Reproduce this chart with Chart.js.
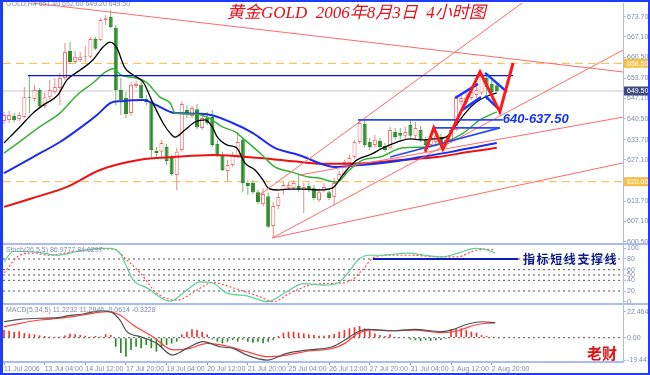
<!DOCTYPE html>
<html>
<head>
<meta charset="utf-8">
<title>GOLD H4</title>
<script src="https://cdn.jsdelivr.net/npm/chart.js@4.4.1/dist/chart.umd.min.js"></script>
<style>
  html, body { margin: 0; padding: 0; background: #fff; }
  #wrap { position: relative; width: 650px; height: 375px; overflow: hidden; background: #fff; }
  #wrap canvas { position: absolute; left: 0; }
  .sep { position: absolute; left: 0; width: 650px; height: 2px; background: #a9bdf4; }
  #frame { position: absolute; left: 0; top: 0; width: 650px; height: 375px; box-sizing: border-box;
           border: 2px solid #1c3cff; border-left-width: 3px; pointer-events: none; }
</style>
</head>
<body>
<div id="wrap">
  <canvas id="main" width="650" height="243" style="top:0"></canvas>
  <div class="sep" style="top:243px"></div>
  <canvas id="stoch" width="650" height="58" style="top:245px"></canvas>
  <div class="sep" style="top:303px"></div>
  <canvas id="macd" width="650" height="68" style="top:305px"></canvas>
  <div id="frame"></div>
</div>
<script>
// 4h gold bars, 11 Jul - 3 Aug 2006
const open = [639.7,640.1,641.4,640.4,641.0,647.5,646.9,649.8,644.6,647.5,
  649.2,650.5,653.7,662.5,658.9,659.6,660.6,660.6,666.4,666.1,
  672.6,673.6,670.0,649.8,647.2,642.3,651.1,651.5,646.9,645.9,
  630.0,629.7,631.3,627.7,622.2,630.3,643.3,641.4,643.6,637.5,
  640.7,641.0,632.3,628.7,623.5,625.4,628.4,633.6,619.6,619.6,
  616.6,612.7,615.3,605.6,612.1,617.3,617.9,617.9,618.6,617.3,
  618.6,617.9,614.0,617.3,616.6,615.0,620.5,622.2,626.1,628.0,
  632.9,638.8,632.9,631.9,633.2,631.6,631.0,636.2,635.8,634.9,
  638.4,634.9,636.8,633.6,631.9,632.9,634.5,632.3,633.6,636.8,
  645.9,645.9,647.2,648.2,648.9,653.7,651.8,651.4];
const high = [642.7,643.0,642.3,642.7,650.8,654.7,651.5,650.5,648.9,653.1,
  653.7,655.4,665.1,665.4,662.5,662.2,664.1,667.1,667.1,673.2,
  674.2,675.8,671.0,653.7,649.2,652.4,652.8,653.1,648.2,646.6,
  631.3,633.6,632.3,628.7,631.0,646.2,644.9,644.6,645.3,642.0,
  642.7,643.3,633.6,629.7,627.1,629.7,636.2,634.2,620.5,620.5,
  617.3,617.9,616.6,613.4,616.3,619.9,619.9,620.5,622.2,619.6,
  619.6,618.9,617.9,619.6,617.9,621.2,623.5,627.1,628.7,633.6,
  640.1,640.1,634.2,635.2,634.2,632.6,637.8,637.5,637.5,637.8,
  640.1,639.4,638.1,634.5,635.2,635.8,635.5,634.5,637.8,648.2,
  648.2,648.9,650.5,651.5,655.7,654.7,653.1,652.6];
const low = [638.8,639.1,639.4,639.7,640.7,642.3,646.2,644.0,644.0,646.9,
  648.5,644.9,653.1,658.3,658.6,658.9,658.9,660.2,662.8,665.8,
  671.0,670.0,644.9,641.7,640.7,641.4,650.5,646.6,644.9,627.7,
  627.4,627.7,625.4,621.9,617.3,629.7,640.7,640.7,637.1,636.8,
  638.4,631.3,628.0,623.5,620.2,624.8,627.7,616.6,615.7,616.0,
  612.7,612.1,604.9,602.0,611.1,615.7,617.3,617.3,616.6,609.8,
  616.6,614.0,613.4,616.6,614.0,612.4,619.9,621.9,625.4,627.4,
  632.3,631.0,630.3,631.0,630.6,629.7,630.3,633.6,633.6,633.9,
  634.2,633.9,632.9,631.0,631.0,631.9,631.0,631.3,632.6,636.5,
  644.9,644.9,646.6,647.2,648.2,646.6,647.5,649.2];
const close = [641.7,641.7,640.1,641.7,647.5,647.2,649.8,644.6,647.5,649.8,
  650.8,653.7,662.2,658.9,660.6,660.6,660.9,666.4,663.2,672.6,
  673.2,670.3,649.8,646.6,642.0,651.5,651.8,647.2,645.9,630.3,
  629.3,632.6,626.7,622.5,629.7,645.3,642.3,644.0,637.8,640.7,
  639.1,631.9,628.7,623.8,625.4,628.7,632.9,619.6,618.6,616.6,
  613.4,616.0,605.3,612.1,615.0,618.9,618.9,619.6,617.6,618.3,
  617.3,614.7,616.6,618.3,614.7,619.6,622.5,626.4,627.7,632.9,
  639.1,631.9,631.3,633.6,631.3,630.3,636.8,634.5,634.9,636.2,
  634.9,637.5,633.6,631.9,634.2,634.9,631.9,633.6,636.8,647.2,
  647.2,647.5,649.2,649.8,655.0,650.8,649.2,649.5];

const timeLabels = ['11 Jul 2006','13 Jul 04:00','14 Jul 12:00','17 Jul 20:00','19 Jul 04:00','20 Jul 12:00',
  '21 Jul 20:00','25 Jul 04:00','26 Jul 12:00','27 Jul 20:00','31 Jul 04:00','1 Aug 12:00','2 Aug 20:00'];
const priceTicks = [600.5,607.1,613.7,620.5,627.1,633.7,640.5,647.1,653.7,660.5,667.1,673.7];
const stochTicks = [0,20,40,50,60,80,100];
const stochLevels = [20,40,50,60,80];
const macdTicks = [-19.4418,0,22.4645];

// moving averages, sampled along the drawn curves (bar index -> price)
const maFastAt = [0,3.1,5.7,7.7,10.6,12.4,15,17.5,19.5,20.9,22.2,23.8,25.4,27.4,29.3,31.3,32.7,33.7,35.6,37.6,
  39.6,41,42,44,45.8,47.4,49.4,51,52,53.7,56,59,61.8,64.6,66.7,68,69.5,72,74.6,77.4,80,82,84.5,87,89,91,93,95.7,97];
const maFast = [632.6,637.8,642.3,644.9,648.2,653.1,656.3,659.6,663.8,665.4,663.5,657.0,654.7,652.4,645.6,639.1,635.8,634.5,636.8,639.4,
  640.1,637.8,634.5,631.9,631.0,626.1,623.8,620.5,617.9,617.3,617.6,617.6,617.3,617.9,622.2,624.8,627.1,628.7,631.0,632.9,
  633.9,633.6,633.9,634.5,638.4,642.7,645.9,648.2,648.9];
const maMidAt = [0,3,7,11,14.4,17.5,20,21.5,23,26,28,30.7,32.7,33.7,37,40,43,45.5,47.4,50.8,53.3,56.7,60,62,64,65.5,68,70.7,74,78.5,83,86.5,90.4,93.7,97];
const maMid = [629.3,632.9,637.8,642.3,648.2,652.1,655.7,656.7,654.7,653.7,652.4,647.5,645.6,642.3,642.0,641.0,637.8,636.2,633.6,628.7,
  624.8,623.1,621.5,621.2,620.2,619.9,623.8,627.1,628.0,631.0,631.3,632.6,635.8,640.1,642.7];
const maSlowAt = [0,5.7,11,15,18.3,21,23,27.4,30,32.7,33.7,39.6,45,49,53.3,58,63.2,65,70,76,82,88,93,97];
const maSlow = [622.8,628.0,632.9,637.5,641.7,645.6,646.2,646.6,644.9,642.7,642.3,642.0,639.1,635.8,631.0,628.7,625.4,624.8,625.4,626.4,
  628.0,629.7,631.3,632.6];
const maLongAt = [0,5.7,12.4,18.9,26.8,33.3,41.1,50.4,58.3,63.2,72,78.5,85.2,91.7,97];
const maLong = [611.8,614.7,618.3,623.8,627.1,628.0,628.7,627.7,626.4,625.8,626.1,627.1,628.0,629.7,631.0];

// stochastic 26,5,5
const stochKAt = [0,1.8,4.5,7.7,10.4,14.4,18.9,20.9,22.8,25.4,28.1,32.7,36,38.6,41.1,43.9,47.8,51.8,55.7,58.9,63.2,65.7,67.7,69.7,71.7,74.4,79.5,82.9,86.2,89.4,92.7,94.7,96.7];
const stochK = [75,94,94,91,87,94,100,100,91,41,26,1,22,37,35,16,11,0,19,34,31,35,54,78,87,87,91,87,84,91,100,98,91];
const stochDAt = [0,3.1,5.7,9.1,12.4,16.3,21.5,24.2,26.8,30.1,34.1,38,41.1,45.1,50.4,53,56.3,60.2,63.2,66.5,68.5,70.5,73,76.4,80.3,85.4,89.4,92.1,94.7,96.7];
const stochD = [54,87,91,87,92,97,99,78,54,16,3,22,36,26,9,0,16,31,34,35,41,59,84,87,87,84,84,94,98,97];

// MACD 5,34,5
const macdHist = [6.6,6.0,5.0,5.5,4.0,3.5,2.9,2.0,1.5,1.0,0.9,0.9,1.8,3.5,3.0,2.3,1.7,0.9,1.5,1.0,3.0,2.4,
  -7.8,-13.3,-16.4,-10.6,-7.8,-9.2,-6.3,-9.0,-12.0,-8.0,-6.3,-4.9,-3.4,
  2.9,5.2,7.2,6.6,5.2,2.9,
  -1.5,-3.4,-4.9,-3.4,-2.0,-3.4,-1.7,-3.4,-4.3,-3.4,-4.9,-3.4,-2.0,
  1.5,4.3,5.2,5.2,4.3,3.7,2.9,2.3,1.7,1.7,
  2.3,3.2,5.2,6.6,8.1,9.0,10.1,8.1,6.0,3.7,2.3,1.4,2.9,0.9,0.5,
  -0.5,-1.7,-2.3,-2.9,-2.0,-2.6,-2.3,-2.0,-1.2,
  7.5,8.1,8.1,6.6,5.2,4.3,2.3,1.4,0.9,-0.3];
const macdMainAt = [0,3.1,7.1,11,12.4,15.6,18.9,20.9,22.8,24.2,26.8,30.1,33.1,36,39.2,42.5,45.1,47.8,51.8,55.7,60,64.6,67.1,69.7,71.7,76.4,80.9,86.2,88.2,90.7,94.1,96.7];
const macdMain = [13.8,15.9,16.8,17.6,18.8,20.5,23.1,22.5,15.3,5.2,0.9,-4.9,-15,-9.2,-3.4,-7.8,-9.2,-15,-19.3,-13.5,-10.5,-7.8,-2,5.2,7.2,6,7.2,5.2,6.7,11,13.8,13];
const macdSigAt = [0,3.1,7.1,11,15.6,20.3,22.8,25.4,29.3,33.3,36.6,40,43.9,47.8,51.8,55.7,60,64.6,67.1,69.7,72.4,76.4,80.9,86.2,89.4,92.7,96.7];
const macdSig = [9.5,12.4,15.3,16.8,19.6,22.5,19.6,11,0.9,-10.6,-9.2,-4.9,-7.2,-12.1,-16.4,-15,-11.5,-9.2,-4.9,3.8,6.7,6,6.6,4.3,6,11,13];

// hand drawn lines [x0, y0, x1, y1] in bar index / price
const redTrends = [[5.7,678.1,121.85,655.7],[50.0,615.3,102.8,679.1],[52.8,601.7,121.85,662.8],
  [58.3,622.2,121.85,641.0],[52.8,601.7,121.85,626.1]];
const zigzagAt = [82.9,84.6,86.4,93.7,97.6,100.2];
const zigzag = [629.7,637.5,630.6,655.7,642.7,658.6];
const blueFlags = [[88.8,647.2,93.3,651.8],[90.2,643.3,93.9,647.5],[94.7,655.4,99.0,649.2],[94.7,647.9,97.6,643.3]];
const topLine = [4.7,654.5,100.2,654.5];
const blueLevels = [[69.7,640.1,98.2,640.1],[84.5,637.5,97.6,637.5],[76.0,628.0,97.6,637.5]];
const lastPrice = 649.5;
const orangeLevels = [658.5,620.0];
const stochSupport = [72.6,80,101.2,80];

const xMin = -0.2, xMax = 121.85;
const FONT = '"Liberation Sans", Arial, sans-serif';
const AXIS = '#a9bdf4';
const LABEL = '#7d8db0';

const pts = (xs, ys) => xs.map((x, i) => ({ x, y: ys[i] }));
function seg(s, color, width, order, dash) {
  return { type: 'line', data: [{ x: s[0], y: s[1] }, { x: s[2], y: s[3] }], borderColor: color,
    borderWidth: width, borderDash: dash || [], pointRadius: 0, order };
}
function curve(xs, ys, color, width, order, dash) {
  return { type: 'line', data: pts(xs, ys), borderColor: color, borderWidth: width, borderDash: dash || [],
    pointRadius: 0, cubicInterpolationMode: 'monotone', order };
}
const full = v => [xMin, v, xMax, v];

function xAxis(show) {
  return {
    type: 'linear', min: xMin, max: xMax, display: show, offset: false,
    afterBuildTicks: s => { s.ticks = timeLabels.map((_, k) => ({ value: k * 8 })); },
    afterFit: s => { if (show) s.height = 11; s.paddingLeft = 0; s.paddingRight = 0; },
    grid: { display: true, offset: false, drawOnChartArea: false, tickLength: 3, color: '#8898b8' },
    border: { display: true, color: AXIS, width: 2 },
    ticks: { align: 'start', autoSkip: false, maxRotation: 0, padding: 0, color: LABEL,
      font: { size: 7, family: FONT }, callback: (v, i) => timeLabels[i] }
  };
}
function yAxis(min, max, ticks, fmt) {
  return {
    position: 'right', min, max, stacked: false,
    afterBuildTicks: s => { s.ticks = ticks.map(v => ({ value: v })); },
    afterFit: s => { s.width = 27; s.paddingTop = 0; s.paddingBottom = 0; },
    grid: { display: true, drawOnChartArea: false, tickLength: 3, color: AXIS },
    border: { display: true, color: AXIS, width: 1 },
    ticks: { autoSkip: false, padding: 1, color: LABEL, font: { size: 7, family: FONT }, callback: fmt }
  };
}
const common = { responsive: false, animation: false, events: [], devicePixelRatio: 1,
  plugins: { legend: { display: false }, tooltip: { enabled: false } } };

// ---------- main price panel ----------
const up = open.map((o, i) => close[i] >= o);
const bars = open.map((_, i) => i);

function priceTag(ctx, ys, v, bg) {
  const py = ys.getPixelForValue(v);
  ctx.fillStyle = bg;
  ctx.fillRect(624, py - 4.5, 26, 9);
  ctx.fillStyle = '#ffffff';
  ctx.font = '7px ' + FONT;
  ctx.textAlign = 'left';
  ctx.textBaseline = 'middle';
  ctx.fillText(v.toFixed(2), 627, py + 0.5);
}

const mainText = {
  id: 'mainText',
  afterDraw(chart) {
    const { ctx, scales } = chart;
    ctx.save();
    ctx.textAlign = 'left';
    ctx.textBaseline = 'top';
    ctx.font = '7px ' + FONT;
    ctx.fillStyle = LABEL;
    ctx.fillText('GOLD,H4 651.40 652.60 649.20 649.50', 6, 1);
    ctx.textBaseline = 'middle';
    ctx.font = 'italic 17px "Liberation Serif", "Noto Sans CJK SC", serif';
    ctx.fillStyle = '#e8101a';
    ctx.fillText('黄金GOLD  2006年8月3日  4小时图', 227, 14);
    ctx.font = 'italic bold 13px ' + FONT;
    ctx.fillStyle = '#1434e6';
    ctx.fillText('640-637.50', scales.x.getPixelForValue(98.2), scales.y.getPixelForValue(640.2));
    orangeLevels.forEach(v => priceTag(ctx, scales.y, v, '#f6c046'));
    priceTag(ctx, scales.y, lastPrice, '#3a4a7c');
    ctx.restore();
  }
};

new Chart(document.getElementById('main'), {
  type: 'bar',
  data: {
    datasets: [
      { data: bars.map(i => ({ x: i, y: [low[i], high[i]] })), backgroundColor: up.map(u => u ? '#f08c8c' : '#7db57d'),
        borderWidth: 0, grouped: false, barPercentage: 0.2, categoryPercentage: 1, order: 30 },
      { data: bars.map(i => ({ x: i, y: [open[i], close[i]] })), backgroundColor: up.map(u => u ? '#ffffff' : '#2b8a2b'),
        borderColor: up.map(u => u ? '#f07070' : '#2b8a2b'), borderWidth: 1, borderSkipped: false,
        grouped: false, barPercentage: 0.8, categoryPercentage: 1, order: 29 },
      seg(full(lastPrice), '#c8c8c8', 1, 40),
      ...orangeLevels.map(v => seg(full(v), '#f8b840', 1, 40, [8, 5])),
      curve(maLongAt, maLong, '#ee1111', 2, 14),
      curve(maSlowAt, maSlow, '#1a2cf2', 2, 13),
      curve(maMidAt, maMid, '#35b235', 1.5, 12),
      curve(maFastAt, maFast, '#000000', 1.3, 11),
      ...redTrends.map(s => seg(s, '#ff6a6a', 1, 8)),
      seg(topLine, '#0a14c8', 1.2, 7),
      ...blueLevels.map(s => seg(s, '#2a48f6', 1.6, 7)),
      ...blueFlags.map(s => seg(s, '#1438ff', 2.5, 6)),
      curve(zigzagAt, zigzag, '#ff1a1a', 3, 5)
    ].map(d => d.type === 'line' ? Object.assign(d, { cubicInterpolationMode: d.data.length > 2 && d.borderWidth < 3 ? 'monotone' : 'default' }) : d)
  },
  options: Object.assign({}, common, {
    layout: { padding: { left: 3, top: 3, right: 0, bottom: 1 } },
    scales: { x: xAxis(false), y: yAxis(600.38, 678.12, priceTicks, v => v.toFixed(2)) }
  }),
  plugins: [mainText]
});

// ---------- stochastic panel ----------
const stochText = {
  id: 'stochText',
  afterDraw(chart) {
    const ctx = chart.ctx;
    ctx.save();
    ctx.textAlign = 'left';
    ctx.textBaseline = 'top';
    ctx.font = '7px ' + FONT;
    ctx.fillStyle = LABEL;
    ctx.fillText('Stoch(26,5,5) 86.9777 84.6297', 6, 2);
    ctx.textBaseline = 'middle';
    ctx.font = 'bold 12px "Noto Sans CJK SC", sans-serif';
    ctx.fillStyle = '#0c1a8c';
    ctx.letterSpacing = '1.6px';
    ctx.fillText('指标短线支撑线', 523, 14);
    ctx.restore();
  }
};

new Chart(document.getElementById('stoch'), {
  type: 'line',
  data: {
    datasets: [
      ...stochLevels.map(v => seg(full(v), '#555555', 1, 20, [2, 3])),
      curve(stochDAt, stochD, '#ff4e4e', 1.2, 6, [2, 2]),
      curve(stochKAt, stochK, '#5ccf9a', 1.2, 5),
      seg(stochSupport, '#0a1cc0', 2, 2)
    ]
  },
  options: Object.assign({}, common, {
    layout: { padding: { left: 3, top: 0, right: 0, bottom: 0 } },
    scales: { x: xAxis(false), y: yAxis(-2.4, 106.2, stochTicks, v => String(v)) }
  }),
  plugins: [stochText]
});

// ---------- MACD panel ----------
const macdText = {
  id: 'macdText',
  afterDraw(chart) {
    const ctx = chart.ctx;
    ctx.save();
    ctx.textAlign = 'left';
    ctx.textBaseline = 'top';
    ctx.font = '7px ' + FONT;
    ctx.fillStyle = LABEL;
    ctx.fillText('MACD(5,34,5) 11.2232 11.2846 -0.0614 -0.3228', 6, 2);
    ctx.textBaseline = 'middle';
    ctx.font = 'bold 15px "Noto Sans CJK SC", sans-serif';
    ctx.fillStyle = '#e01010';
    ctx.fillText('老财', 587, 48);
    ctx.restore();
  }
};

new Chart(document.getElementById('macd'), {
  type: 'bar',
  data: {
    datasets: [
      { data: macdHist.map((v, i) => ({ x: i, y: v })), backgroundColor: macdHist.map(v => v >= 0 ? '#ff2a2a' : '#1f8a1f'),
        borderWidth: 0, barPercentage: 0.32, categoryPercentage: 1, order: 20 },
      seg(full(0), '#555555', 1, 21, [2, 3]),
      curve(macdSigAt, macdSig, '#ff4040', 1.2, 6),
      curve(macdMainAt, macdMain, '#505050', 1.2, 5)
    ]
  },
  options: Object.assign({}, common, {
    layout: { padding: { left: 3, top: 0, right: 0, bottom: 0 } },
    scales: { x: xAxis(true), y: yAxis(-21.0, 28.26, macdTicks, v => v === 0 ? '0.00' : String(v)) }
  }),
  plugins: [macdText]
});
</script>
</body>
</html>
